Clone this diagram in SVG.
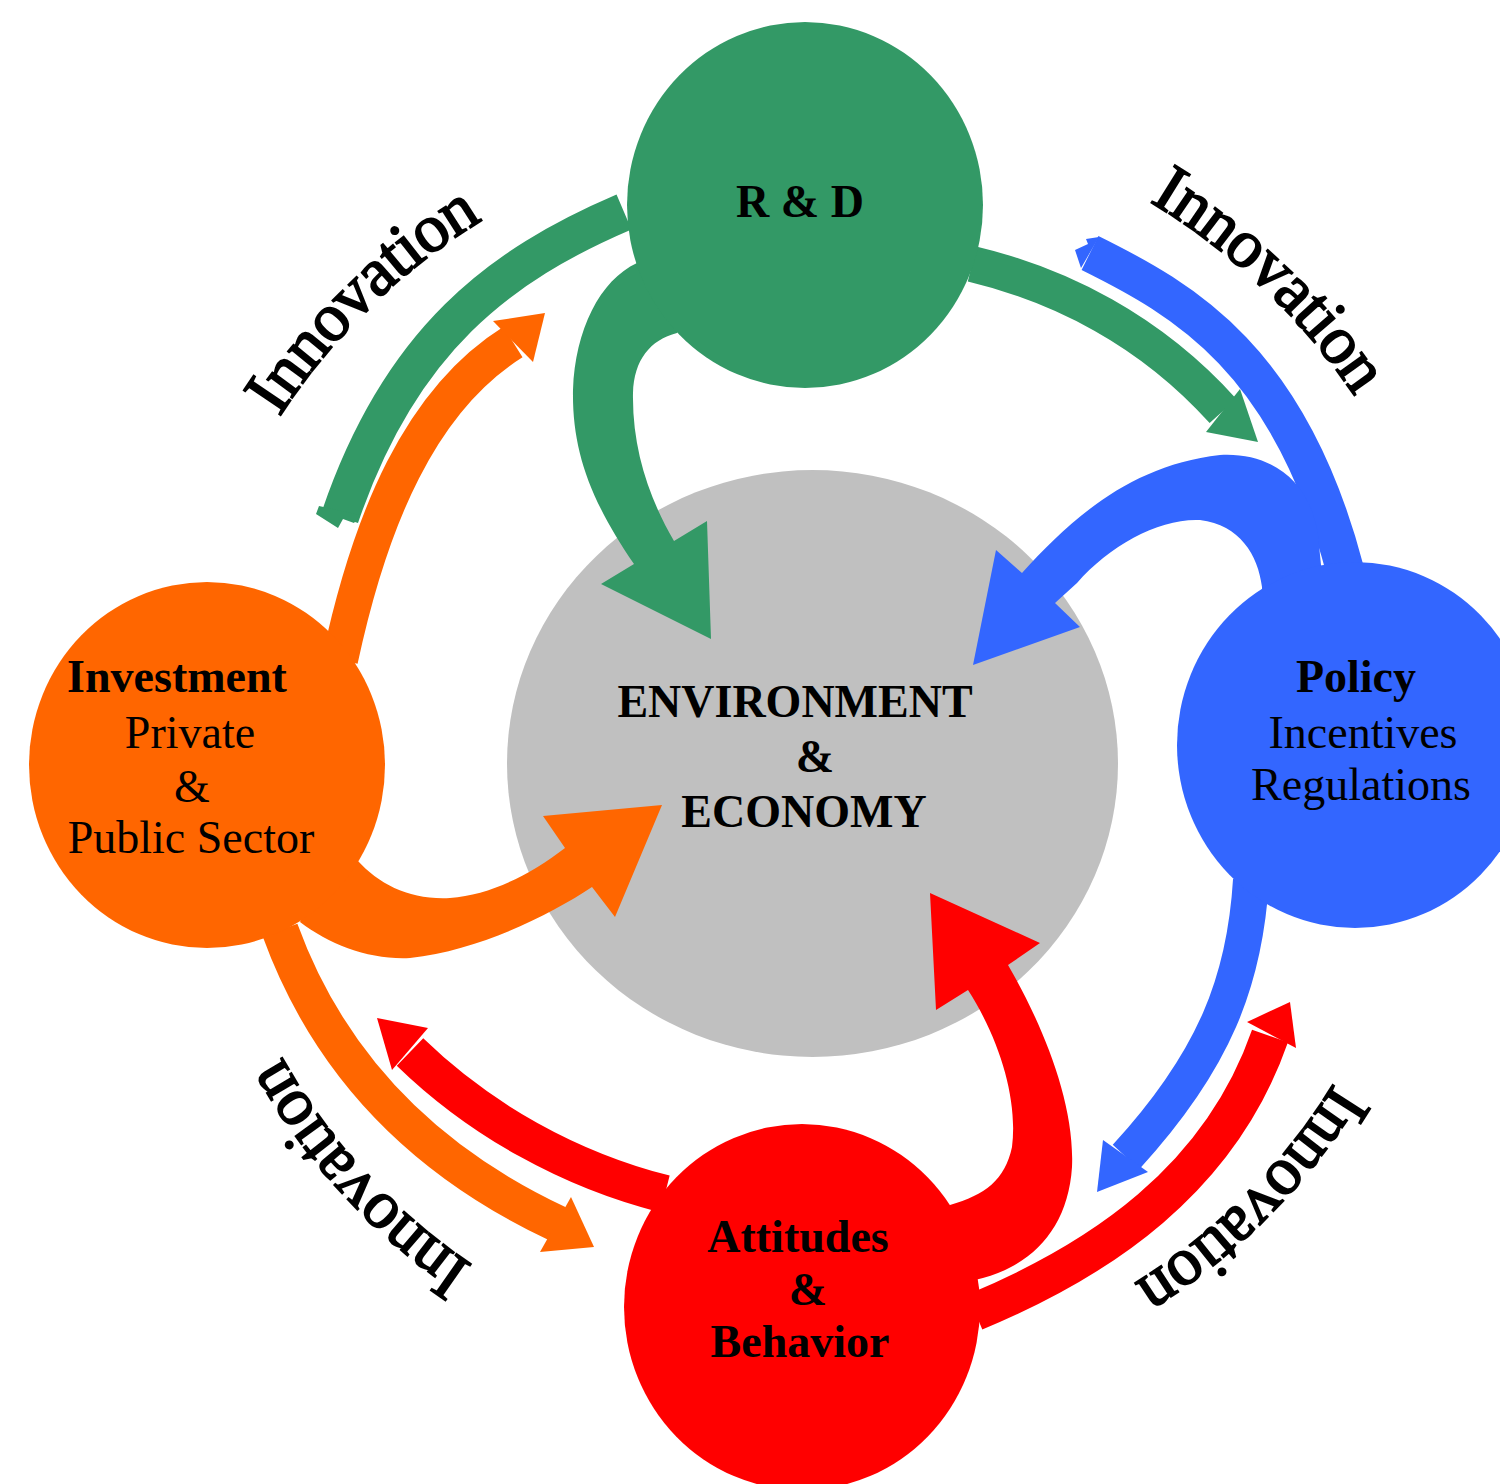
<svg xmlns="http://www.w3.org/2000/svg" width="1500" height="1484" viewBox="0 0 1500 1484">
<style>
.lbl{font-family:"Liberation Serif","Times New Roman",serif;font-size:46px;fill:#000;text-anchor:middle}
.b{font-weight:bold}
.inn{font-family:"Liberation Serif","Times New Roman",serif;font-size:68px;letter-spacing:-1px;fill:#000;stroke:#000;stroke-width:1.8}
.band{fill:none;stroke-linecap:butt;stroke-width:38}
.g{fill:#339966}.gs{stroke:#339966}
.o{fill:#FF6600}.os{stroke:#FF6600}
.r{fill:#FF0000}.rs{stroke:#FF0000}
.bl{fill:#3366FF}.bls{stroke:#3366FF}
</style>
<defs>
<path id="tpTL" d="M 279.4 417.2 A 635 635 0 0 1 594.8 166.3"/>
<path id="tpTR" d="M 1149.3 201.5 A 655 655 0 0 1 1427.5 539"/>
<path id="tpBR" d="M 1333.8 1082.8 A 612 612 0 0 1 1021.3 1338.1"/>
<path id="tpBL" d="M 473.1 1265.4 A 606 606 0 0 1 226.6 919.8"/>
</defs>
<rect width="1500" height="1484" fill="#FFFFFF"/>

<g id="center">
<ellipse cx="812.5" cy="763.5" rx="305.5" ry="293.5" fill="#C0C0C0"/>
<text class="lbl b" x="795" y="717">ENVIRONMENT</text>
<text class="lbl b" x="815" y="772">&amp;</text>
<text class="lbl b" x="804" y="827">ECONOMY</text>
</g>

<g id="connectors">
<!-- green outer arc R&D -> left (tail) -->
<path class="band gs" d="M 624 212 C 500 265, 400 340, 340 517"/>
<path class="g" d="M 319 506 L 316 514 L 338 528 L 343 519 L 354 523 L 360 515 Z"/>
<!-- green inner arrow R&D -> center -->
<path class="g" d="M 660 230 L 637 263 C 600 280, 575 330, 573 390 C 572 450, 590 500, 634 564 L 601 584 L 711 639 L 707 521 L 674 541 C 650 500, 632 450, 633 393 C 634 360, 650 340, 677 333 L 700 290 Z"/>
<!-- green right arc R&D -> Policy -->
<path class="band gs" d="M 972 264 C 1060 285, 1150 330, 1223 411" style="stroke-width:36"/>
<path class="g" d="M 1240 389 L 1258 442 L 1206 432 Z"/>
<!-- blue outer arc Policy -> top (tail) -->
<path class="band bls" d="M 1090 253 C 1185 300, 1290 360, 1345 570"/>
<path class="bl" d="M 1099 237 L 1086 239 L 1088 244 L 1075 250 L 1081 268 Z"/>
<!-- blue inner arrow Policy -> center -->
<path class="bl" d="M 1262 600 L 1262 587 C 1258 555, 1240 525, 1200 520 C 1160 518, 1110 545, 1077 583 L 1055 603 L 1080 627 L 973 665 L 996 550 L 1022 573 C 1070 520, 1130 465, 1220 455 C 1270 452, 1310 480, 1318 535 L 1322 575 Z"/>
<!-- blue lower arc Policy -> Attitudes -->
<path class="band bls" d="M 1251 880 C 1245 980, 1215 1060, 1126 1157" style="stroke-width:36"/>
<path class="bl" d="M 1103 1140 L 1097 1192 L 1148 1172 Z"/>
<!-- red right arc Attitudes -> Policy -->
<path class="band rs" d="M 975 1312 C 1100 1260, 1220 1180, 1270 1036"/>
<path class="r" d="M 1247 1022 L 1290 1002 L 1296 1048 Z"/>
<!-- red inner arrow Attitudes -> center -->
<path class="r" d="M 930 1230 L 950 1205 C 985 1195, 1005 1180, 1012 1147 C 1018 1100, 1000 1040, 968 990 L 936 1010 L 930 893 L 1040 943 L 1008 965 C 1040 1020, 1075 1100, 1072 1167 C 1068 1230, 1030 1268, 975 1280 Z"/>
<!-- red left arc Attitudes -> Investment -->
<path class="band rs" d="M 665 1194 C 570 1170, 480 1120, 410 1052"/>
<path class="r" d="M 428 1028 L 377 1018 L 392 1070 Z"/>
<!-- orange lower arc Investment -> Attitudes -->
<path class="band os" d="M 280 930 C 320 1040, 400 1150, 558 1224" style="stroke-width:37"/>
<path class="o" d="M 571 1197 L 594 1247 L 540 1252 Z"/>
<!-- orange inner arrow Investment -> center -->
<path class="o" d="M 340 840 L 357 860 C 380 885, 410 900, 450 898 C 490 895, 530 875, 565 848 L 543 816 L 662 805 L 615 917 L 592 887 C 550 915, 480 950, 410 958 C 370 960, 330 945, 300 922 Z"/>
<!-- orange upper arc Investment -> R&D -->
<path class="band os" d="M 340 660 C 370 520, 420 400, 513 342" style="stroke-width:36"/>
<path class="o" d="M 493 321 L 545 313 L 533 362 Z"/>
</g>

<g id="rd">
<ellipse cx="805" cy="205" rx="178" ry="183" class="g"/>
<text class="lbl b" x="800" y="217">R &amp; D</text>
</g>

<g id="policy">
<ellipse cx="1355" cy="745" rx="178" ry="183" class="bl"/>
<text class="lbl b" x="1356" y="692">Policy</text>
<text class="lbl" x="1363" y="748">Incentives</text>
<text class="lbl" x="1361" y="800">Regulations</text>
</g>

<g id="attitudes">
<ellipse cx="802" cy="1307" rx="178" ry="183" class="r"/>
<text class="lbl b" x="798" y="1252">Attitudes</text>
<text class="lbl b" x="808" y="1305">&amp;</text>
<text class="lbl b" x="800" y="1357">Behavior</text>
</g>

<g id="investment">
<ellipse cx="207" cy="765" rx="178" ry="183" class="o"/>
<text class="lbl b" x="177" y="692">Investment</text>
<text class="lbl" x="190" y="748">Private</text>
<text class="lbl" x="192" y="802">&amp;</text>
<text class="lbl" x="191" y="853">Public Sector</text>
</g>

<g id="labels">
<text class="inn"><textPath href="#tpTL">Innovation</textPath></text>
<text class="inn"><textPath href="#tpTR">Innovation</textPath></text>
<text class="inn"><textPath href="#tpBR">Innovation</textPath></text>
<text class="inn"><textPath href="#tpBL">Innovation</textPath></text>
</g>
</svg>
